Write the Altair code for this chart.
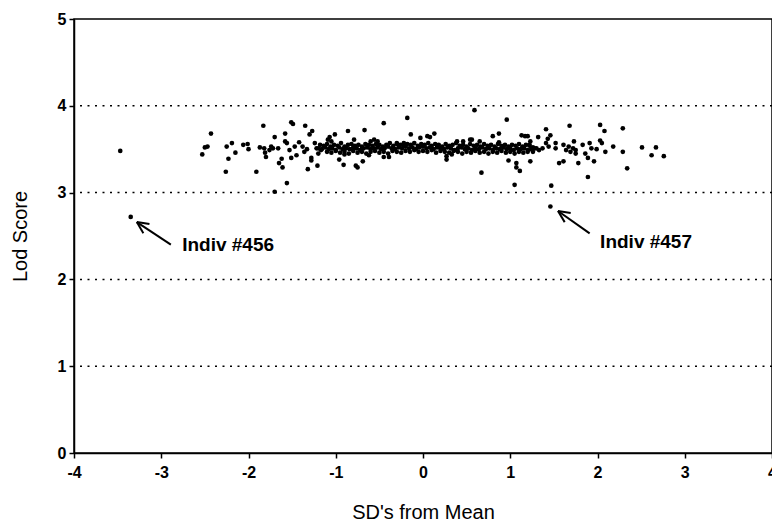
import altair as alt
import pandas as pd

# Scattered individuals (SD's from mean, Lod score)
sd_scatter = [-3.47, -3.35, 1.46, -2.43, -2.50, -2.47, -2.53, -2.25, -2.19, -2.15, -2.23, -2.26,
              -2.06, -2.01, -2.00, -1.91, -1.83, -1.87, -1.82, -1.81, -1.80, -1.76, -1.72, -1.74,
              -1.70, -1.66, -1.62, -1.65, -1.61, -1.58, -1.58, -1.56, -1.56, -1.70, -1.51, -1.49,
              -1.35, -1.53, -1.51, -1.45, -1.47, -1.42, -1.38, -1.36, -1.33, -1.30, -1.27, -1.28,
              -1.32, -1.21, -1.28, -1.24, -1.22, -1.20, -1.17, -1.07, -1.01, -1.09, -1.05, -0.96,
              -0.91, -0.86, -0.77, -0.75, -0.69, -0.67, -0.79, -0.56, -0.52, -0.60, -0.45, -0.45,
              -0.39, -0.30, -0.22, -0.18, -0.14, -0.03, 0.05, 0.08, 0.13, 0.27, 0.27, 0.59,
              0.46, 0.54, 0.56, 0.65, 0.39, 0.67, 0.80, 0.87, 0.87, 0.96, 0.98, 1.07, 1.07, 1.11,
              1.05, 1.13, 1.17, 1.23, 1.22, 1.20, 1.23, 1.32, 1.41, 1.43, 1.46, 1.47, 1.68, 1.56,
              1.61, 1.52, 1.61, 1.64, 1.52, 1.41, 1.44, 1.37, 1.33, 1.30, 1.26, 1.73, 1.72, 1.75,
              1.67, 1.69, 1.75, 1.78, 1.83, 1.86, 1.89, 1.91, 1.93, 1.89, 1.96, 2.03, 2.08, 2.03,
              2.05, 2.09, 1.99, 2.18, 2.29, 2.29, 2.34, 2.51, 2.62, 2.67, 2.76, -0.90, -0.62, 0.33]
lod_scatter = [3.48, 2.72, 2.84, 3.68, 3.52, 3.53, 3.44, 3.53, 3.57, 3.46, 3.39, 3.24,
               3.55, 3.56, 3.50, 3.24, 3.77, 3.52, 3.51, 3.46, 3.41, 3.49, 3.51, 3.53,
               3.64, 3.51, 3.39, 3.34, 3.29, 3.68, 3.59, 3.57, 3.11, 3.01, 3.81, 3.79,
               3.77, 3.49, 3.40, 3.43, 3.53, 3.58, 3.53, 3.47, 3.50, 3.67, 3.71, 3.40,
               3.27, 3.31, 3.37, 3.57, 3.51, 3.45, 3.49, 3.64, 3.67, 3.61, 3.59, 3.38,
               3.32, 3.71, 3.31, 3.29, 3.36, 3.72, 3.61, 3.61, 3.59, 3.59, 3.80, 3.41,
               3.41, 3.57, 3.57, 3.86, 3.67, 3.63, 3.65, 3.64, 3.68, 3.42, 3.38, 3.95,
               3.59, 3.61, 3.61, 3.59, 3.59, 3.23, 3.65, 3.68, 3.58, 3.84, 3.37, 3.34, 3.29, 3.25,
               3.09, 3.66, 3.65, 3.59, 3.55, 3.65, 3.36, 3.64, 3.73, 3.62, 3.66, 3.08, 3.77, 3.34,
               3.36, 3.57, 3.55, 3.49, 3.51, 3.57, 3.53, 3.51, 3.49, 3.51, 3.47, 3.59, 3.51, 3.49,
               3.53, 3.47, 3.45, 3.34, 3.55, 3.45, 3.40, 3.57, 3.51, 3.18, 3.36, 3.78, 3.71, 3.60,
               3.57, 3.47, 3.50, 3.53, 3.74, 3.47, 3.28, 3.52, 3.43, 3.52, 3.42, 3.44, 3.43, 3.44]

# Dense central band of individuals
sd_band = [-1.18, -1.14, -1.10, -1.06, -1.02, -0.98, -0.94, -0.90, -0.86, -0.82, -0.78, -0.74,
           -0.70, -0.66, -0.62, -0.58, -0.54, -0.50, -0.46, -0.42, -0.38, -0.34, -0.30, -0.26,
           -0.22, -0.18, -0.14, -0.10, -0.06, -0.02, 0.02, 0.06, 0.10, 0.14, 0.18, 0.22, 0.26,
           0.30, 0.34, 0.38, 0.42, 0.46, 0.50, 0.54, 0.58, 0.62, 0.66, 0.70, 0.74, 0.78, 0.82,
           0.86, 0.90, 0.94, 0.98, 1.02, 1.06, 1.10, 1.14, 1.18, 1.22, 1.26,
           -1.20, -1.16, -1.12, -1.08, -1.04, -1.00, -0.96, -0.92, -0.88, -0.84, -0.80, -0.76,
           -0.72, -0.68, -0.64, -0.60, -0.56, -0.52, -0.48, -0.44, -0.40, -0.36, -0.32, -0.28,
           -0.24, -0.20, -0.16, -0.12, -0.08, -0.04, 0.00, 0.04, 0.08, 0.12, 0.16, 0.20, 0.24,
           0.28, 0.32, 0.36, 0.40, 0.44, 0.48, 0.52, 0.56, 0.60, 0.64, 0.68, 0.72, 0.76, 0.80,
           0.84, 0.88, 0.92, 0.96, 1.00, 1.04, 1.08, 1.12, 1.16, 1.20, 1.24, 1.28,
           -1.10, -1.05, -1.00, -0.95, -0.90, -0.85, -0.80, -0.75, -0.70, -0.65, -0.60, -0.55,
           -0.50, -0.45, -0.40, -0.35, -0.30, -0.25, -0.20, -0.15, -0.10, -0.05, 0.00, 0.05,
           0.10, 0.15, 0.20, 0.25, 0.30, 0.35, 0.40, 0.45, 0.50, 0.55, 0.60, 0.65, 0.70, 0.75,
           0.80, 0.85, 0.90, 0.95, 1.00, 1.05, 1.10, 1.15, 1.20]
lod_band = [3.55, 3.54, 3.56, 3.53, 3.55, 3.54, 3.57, 3.53, 3.55, 3.56, 3.54, 3.55,
            3.53, 3.56, 3.55, 3.54, 3.56, 3.55, 3.53, 3.55, 3.57, 3.54, 3.56, 3.55,
            3.54, 3.56, 3.55, 3.57, 3.54, 3.56, 3.55, 3.57, 3.54, 3.56, 3.55, 3.53, 3.56,
            3.54, 3.55, 3.57, 3.54, 3.55, 3.53, 3.56, 3.54, 3.55, 3.53, 3.56, 3.54, 3.55, 3.53,
            3.56, 3.54, 3.55, 3.53, 3.55, 3.54, 3.56, 3.53, 3.55, 3.54, 3.52,
            3.51, 3.50, 3.52, 3.50, 3.51, 3.49, 3.52, 3.50, 3.51, 3.50, 3.52, 3.51,
            3.49, 3.51, 3.52, 3.50, 3.51, 3.52, 3.50, 3.51, 3.53, 3.51, 3.50, 3.52,
            3.51, 3.53, 3.51, 3.52, 3.50, 3.52, 3.53, 3.51, 3.52, 3.50, 3.52, 3.51, 3.50,
            3.52, 3.51, 3.49, 3.51, 3.52, 3.50, 3.51, 3.49, 3.51, 3.50, 3.52, 3.50, 3.51, 3.49,
            3.51, 3.50, 3.52, 3.50, 3.51, 3.49, 3.51, 3.50, 3.51, 3.49, 3.50, 3.51,
            3.47, 3.46, 3.48, 3.46, 3.47, 3.45, 3.48, 3.46, 3.47, 3.45, 3.47, 3.48,
            3.46, 3.47, 3.45, 3.48, 3.47, 3.46, 3.48, 3.47, 3.49, 3.47, 3.48, 3.47,
            3.49, 3.46, 3.48, 3.47, 3.46, 3.48, 3.47, 3.45, 3.47, 3.46, 3.48, 3.46, 3.47, 3.45,
            3.47, 3.46, 3.48, 3.46, 3.47, 3.45, 3.47, 3.46, 3.47]

grid_values = [1, 2, 3, 4]
x_ticks = [-4, -3, -2, -1, 0, 1, 2, 3, 4]
y_ticks = [0, 1, 2, 3, 4, 5]

# Annotations: label text and anchor; arrows (shaft and two head strokes), in data units
label_text = ["Indiv #456", "Indiv #457"]
label_sd = [-2.76, 2.03]
label_lod = [2.40, 2.43]
arrow_sd = [-2.89, -3.28, -3.205, -3.28, -3.135, -3.28, 1.91, 1.547, 1.624, 1.547, 1.693, 1.547]
arrow_lod = [2.40, 2.66, 2.533, 2.66, 2.639, 2.66, 2.53, 2.788, 2.66, 2.788, 2.766, 2.788]

FONT = "Liberation Sans, Arial, Helvetica, sans-serif"

points = pd.DataFrame({"sd": sd_scatter + sd_band, "lod": lod_scatter + lod_band})
grid_df = pd.DataFrame({"lod": grid_values})
labels_df = pd.DataFrame({"text": label_text, "sd": label_sd, "lod": label_lod})
arrows_df = pd.DataFrame({
    "sd": arrow_sd[0::2], "lod": arrow_lod[0::2],
    "sd2": arrow_sd[1::2], "lod2": arrow_lod[1::2],
})

x_scale = alt.Scale(domain=[-4, 4], nice=False, zero=False)
y_scale = alt.Scale(domain=[0, 5], nice=False, zero=False)

x_axis = alt.Axis(values=x_ticks, labelExpr="'' + datum.value", title="SD's from Mean", grid=False,
                  tickSize=5, tickColor="black", tickWidth=1.5, domainColor="black", domainWidth=1.5,
                  labelFont=FONT, labelFontSize=16, labelFontWeight="bold", labelColor="black",
                  labelPadding=6, labelFlush=False,
                  titleFont=FONT, titleFontSize=20, titleFontWeight="normal", titleColor="black",
                  titleY=59, titleBaseline="middle")
y_axis = alt.Axis(values=y_ticks, labelExpr="'' + datum.value", title="Lod Score", grid=False,
                  tickSize=5, tickColor="black", tickWidth=1.5, domainColor="black", domainWidth=1.5,
                  labelFont=FONT, labelFontSize=16, labelFontWeight="bold", labelColor="black",
                  labelPadding=3, labelFlush=False,
                  titleFont=FONT, titleFontSize=20, titleFontWeight="normal", titleColor="black",
                  titleX=-54, titleBaseline="middle")

grid = alt.Chart(grid_df).mark_rule(color="black", strokeDash=[2, 5.5], strokeWidth=1.5).encode(
    y=alt.Y("lod:Q", scale=y_scale, axis=y_axis)
)

dots = alt.Chart(points).mark_circle(color="black", size=22, opacity=1).encode(
    x=alt.X("sd:Q", scale=x_scale, axis=x_axis),
    y=alt.Y("lod:Q", scale=y_scale, axis=y_axis),
)

arrows = alt.Chart(arrows_df).mark_rule(color="black", strokeWidth=2).encode(
    x=alt.X("sd:Q", scale=x_scale), y=alt.Y("lod:Q", scale=y_scale),
    x2="sd2:Q", y2="lod2:Q",
)

labels = alt.Chart(labels_df).mark_text(
    align="left", baseline="middle", font=FONT, fontSize=19, fontWeight="bold", color="black"
).encode(
    x=alt.X("sd:Q", scale=x_scale), y=alt.Y("lod:Q", scale=y_scale), text="text:N"
)

chart = alt.layer(grid, dots, arrows, labels).properties(
    width=698, height=434,
    autosize=alt.AutoSizeParams(type="none"),
    padding={"left": 66, "top": 11, "right": 0, "bottom": 68},
    background="white",
).configure_view(stroke="black", strokeWidth=1.5)

chart.save("out.html", embed_options={"renderer": "svg", "actions": False})
